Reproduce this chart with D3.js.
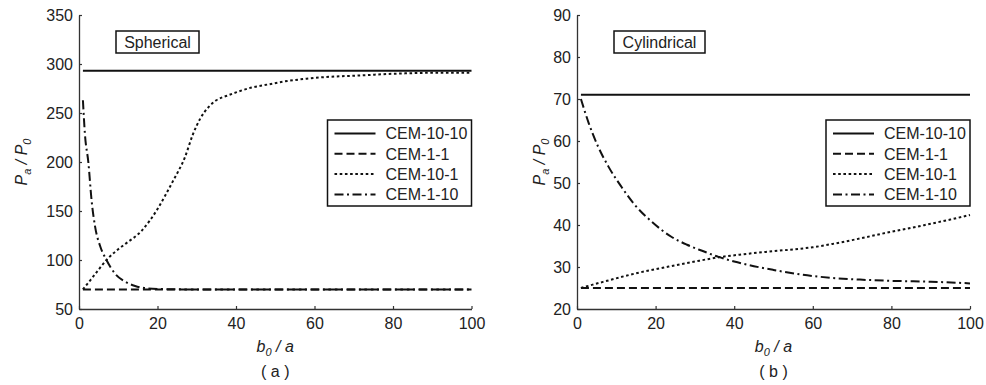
<!DOCTYPE html>
<html>
<head>
<meta charset="utf-8">
<script src="https://cdn.jsdelivr.net/npm/d3@7"></script>
<style>
  html, body { margin: 0; padding: 0; background: #fff; }
  svg { display: block; font-family: "Liberation Sans", Arial, sans-serif; }
</style>
</head>
<body>
<svg id="chart" width="986" height="385"></svg>
<script>
// ---- data ----
const seriesNames = ["CEM-10-10", "CEM-1-1", "CEM-10-1", "CEM-1-10"];
const xTickValues = [0, 20, 40, 60, 80, 100];
const sphericalYTicks = [50, 100, 150, 200, 250, 300, 350];
const cylindricalYTicks = [20, 30, 40, 50, 60, 70, 80, 90];

// Spherical shell: [b0/a, Pa/P0]
const sphCEM_10_10 = [[1, 293], [100, 293]];
const sphCEM_1_1 = [[1, 70], [100, 70]];
const sphCEM_10_1 = [[1, 70], [4, 85], [7, 100], [10, 111], [12, 117], [16, 130], [18, 140],
  [20, 152], [22, 166], [24, 181], [27, 205], [29, 228], [31, 245], [33, 256], [35, 263],
  [38, 268], [40, 271], [44, 276], [48, 279], [52, 282], [58, 285], [64, 287], [70, 288],
  [80, 290], [90, 291], [100, 291]];
const sphCEM_1_10 = [[1, 263], [1.5, 229], [2.4, 199], [3.2, 161], [4.1, 134], [5.4, 114],
  [7, 100], [9.2, 86], [11.7, 78], [14.3, 73.5], [17.6, 71], [22, 70.3], [28, 70], [100, 70]];

// Cylindrical shell: [b0/a, Pa/P0]
const cylCEM_10_10 = [[1, 71], [100, 71]];
const cylCEM_1_1 = [[1, 25], [100, 25]];
const cylCEM_10_1 = [[1, 25], [4, 25.8], [8, 26.8], [12, 27.8], [16, 28.7], [20, 29.5],
  [25, 30.4], [30, 31.3], [36, 32.3], [42, 33], [48, 33.6], [55, 34.2], [60, 34.7],
  [65, 35.5], [70, 36.4], [75, 37.4], [80, 38.4], [85, 39.3], [90, 40.3], [95, 41.3], [100, 42.4]];
const cylCEM_1_10 = [[1, 70], [3, 64.2], [5.4, 58.6], [8, 53.9], [11.3, 49.1], [14.7, 44.8],
  [19, 40.8], [24, 37.2], [28, 35.3], [32, 33.8], [36, 32.4], [40, 31.3], [45, 30.2],
  [50, 29.3], [57, 28.2], [65, 27.4], [72, 27], [80, 26.7], [90, 26.5], [100, 26.1]];

// ---- styling ----
const dashStyles = [null, "8,4", "2.6,2.6", "9,3.5,2,3.5"];
const ink = "#111";
const axisInk = "#333";

const panels = [
  { title: "Spherical", tag: "( a )", left: 79, right: 471.5, yDomain: [50, 350],
    yTicks: sphericalYTicks, series: [sphCEM_10_10, sphCEM_1_1, sphCEM_10_1, sphCEM_1_10],
    titleBox: [116, 31, 83, 22], yLabelX: 21 },
  { title: "Cylindrical", tag: "( b )", left: 577, right: 970, yDomain: [20, 90],
    yTicks: cylindricalYTicks, series: [cylCEM_10_10, cylCEM_1_1, cylCEM_10_1, cylCEM_1_10],
    titleBox: [614, 31, 91, 22], yLabelX: 539 }
];

const plotTop = 15, plotBottom = 309;
const svg = d3.select("#chart");

panels.forEach(p => {
  const x = d3.scaleLinear().domain([0, 100]).range([p.left, p.right]);
  const y = d3.scaleLinear().domain(p.yDomain).range([plotBottom, plotTop]);
  const g = svg.append("g");

  // axes: left and bottom only, ticks pointing inward
  const xAxis = g.append("g")
    .attr("transform", `translate(0,${plotBottom})`)
    .call(d3.axisBottom(x).tickValues(xTickValues).tickSizeInner(-3).tickSizeOuter(0));
  const yAxis = g.append("g")
    .attr("transform", `translate(${p.left},0)`)
    .call(d3.axisLeft(y).tickValues(p.yTicks).tickSizeInner(-3).tickSizeOuter(0));
  [xAxis, yAxis].forEach(a => {
    a.select(".domain").attr("stroke", axisInk).attr("stroke-width", 1.3);
    a.selectAll(".tick line").attr("stroke", axisInk).attr("stroke-width", 1.2);
    a.selectAll(".tick text").attr("fill", "#222").style("font-size", "16px")
      .style("font-family", "'Liberation Sans', Arial, sans-serif");
  });
  xAxis.selectAll(".tick text").attr("y", 14).attr("dy", "0.36em");
  yAxis.selectAll(".tick text").attr("x", -6).attr("dy", "0.36em");

  // curves
  const line = d3.line().x(d => x(d[0])).y(d => y(d[1])).curve(d3.curveMonotoneX);
  p.series.forEach((s, i) => {
    g.append("path")
      .datum(s)
      .attr("d", line)
      .attr("fill", "none")
      .attr("stroke", ink)
      .attr("stroke-width", 2)
      .attr("stroke-dasharray", dashStyles[i]);
  });

  // title box
  const [bx, by, bw, bh] = p.titleBox;
  g.append("rect").attr("x", bx).attr("y", by).attr("width", bw).attr("height", bh)
    .attr("fill", "#fff").attr("stroke", ink).attr("stroke-width", 1.5);
  g.append("text").attr("x", bx + bw / 2).attr("y", by + bh / 2).attr("dy", "0.36em")
    .attr("text-anchor", "middle").attr("fill", "#222").style("font-size", "16px")
    .text(p.title);

  // legend
  const lx = p.right - 144, ly = 120, lw = 144, lh = 86;
  const leg = g.append("g");
  leg.append("rect").attr("x", lx).attr("y", ly).attr("width", lw).attr("height", lh)
    .attr("fill", "#fff").attr("stroke", ink).attr("stroke-width", 1.5);
  seriesNames.forEach((name, i) => {
    const ry = ly + 13.5 + i * 20.3;
    leg.append("line").attr("x1", lx + 7).attr("x2", lx + 48).attr("y1", ry).attr("y2", ry)
      .attr("stroke", ink).attr("stroke-width", 2).attr("stroke-dasharray", dashStyles[i]);
    leg.append("text").attr("x", lx + 58).attr("y", ry).attr("dy", "0.36em")
      .attr("fill", "#222").style("font-size", "16px").text(name);
  });

  // axis titles
  const cx = (p.left + p.right) / 2;
  const xl = g.append("text").attr("x", cx).attr("y", 346).attr("dy", "0.36em")
    .attr("text-anchor", "middle").attr("fill", "#222").style("font-size", "16px")
    .style("font-style", "italic");
  xl.append("tspan").text("b");
  xl.append("tspan").attr("dy", 4).style("font-size", "11px").text("0");
  xl.append("tspan").attr("dy", -4).text(" / a");

  g.append("text").attr("x", cx).attr("y", 371).attr("dy", "0.36em")
    .attr("text-anchor", "middle").attr("fill", "#222").style("font-size", "16px")
    .text(p.tag);

  const yl = g.append("text")
    .attr("transform", `translate(${p.yLabelX},${(plotTop + plotBottom) / 2}) rotate(-90)`)
    .attr("text-anchor", "middle").attr("dy", "0.36em").attr("fill", "#222")
    .style("font-size", "16px").style("font-style", "italic");
  yl.append("tspan").text("P");
  yl.append("tspan").attr("dy", 4).style("font-size", "11px").text("a");
  yl.append("tspan").attr("dy", -4).text(" / P");
  yl.append("tspan").attr("dy", 4).style("font-size", "11px").text("0");
});
</script>
</body>
</html>
